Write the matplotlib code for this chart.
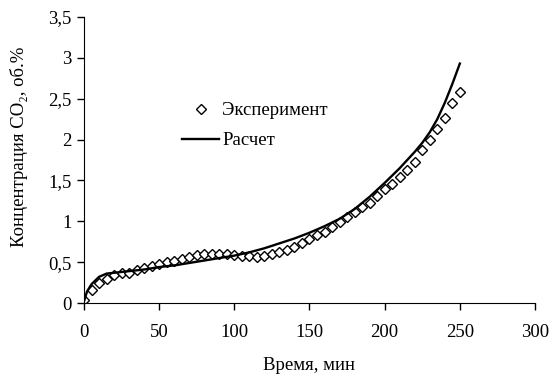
import numpy as np
import matplotlib
matplotlib.use('Agg')
import matplotlib.pyplot as plt
from matplotlib.ticker import FuncFormatter

# experiment points (every 5 min)
t_exp = list(range(0, 255, 5))
c_exp = [0.04, 0.16, 0.24, 0.29, 0.34, 0.37, 0.37, 0.40, 0.43, 0.45,
         0.48, 0.50, 0.52, 0.54, 0.56, 0.59, 0.60, 0.60, 0.60, 0.60,
         0.59, 0.58, 0.57, 0.56, 0.57, 0.60, 0.63, 0.65, 0.69, 0.74,
         0.78, 0.83, 0.87, 0.93, 0.99, 1.05, 1.11, 1.17, 1.23, 1.31,
         1.39, 1.46, 1.54, 1.63, 1.73, 1.87, 2.00, 2.13, 2.26, 2.45,
         2.58]

# calculated curve
t_calc = [0, 2, 5, 10, 15, 20, 30, 40, 50, 60, 70, 80, 90, 100, 110, 120,
          130, 140, 150, 160, 170, 180, 190, 200, 210, 215, 220, 225, 230,
          235, 240, 245, 250]
c_calc = [0.02, 0.14, 0.23, 0.32, 0.36, 0.37, 0.39, 0.41, 0.44, 0.46, 0.49,
          0.52, 0.55, 0.58, 0.62, 0.67, 0.73, 0.79, 0.86, 0.94, 1.03, 1.15,
          1.30, 1.47, 1.65, 1.75, 1.85, 1.96, 2.09, 2.25, 2.45, 2.68, 2.93]

plt.rcParams['font.family'] = ['Liberation Serif', 'DejaVu Serif']
plt.rcParams['font.size'] = 13.5

fig = plt.figure(figsize=(5.54, 3.84), dpi=100)
ax = fig.add_axes([0.1516, 0.2109, 0.8141, 0.7448])

ax.plot(t_exp, c_exp, linestyle='none', marker='D', markersize=5.5,
        markerfacecolor='white', markeredgecolor='black', markeredgewidth=1,
        label='Эксперимент')
ax.plot(t_calc, c_calc, color='black', linewidth=1.7, label='Расчет')

ax.set_xlim(0, 300)
ax.set_ylim(0, 3.5)
ax.set_xticks(np.arange(0, 301, 50))
ax.set_yticks(np.arange(0, 3.51, 0.5))
ax.yaxis.set_major_formatter(FuncFormatter(lambda v, p: f'{v:g}'.replace('.', ',')))

for s in ['top', 'right']:
    ax.spines[s].set_visible(False)
ax.tick_params(direction='out', length=5, width=1, colors='black', labelsize=13.5)
ax.tick_params(axis='x', pad=10)
ax.tick_params(axis='y', pad=4)

ax.set_xlabel('Время, мин')
ax.set_ylabel('Концентрация CO₂, об.%')
ax.xaxis.set_label_coords(0.5, -0.19)
ax.yaxis.set_label_coords(-0.125, 0.545)

ax.legend(loc='upper left', bbox_to_anchor=(0.217, 0.703), frameon=False,
          handlelength=2.0, handletextpad=0.15, labelspacing=0.7,
          borderaxespad=0, borderpad=0)

fig.savefig('out.png', dpi=100)
